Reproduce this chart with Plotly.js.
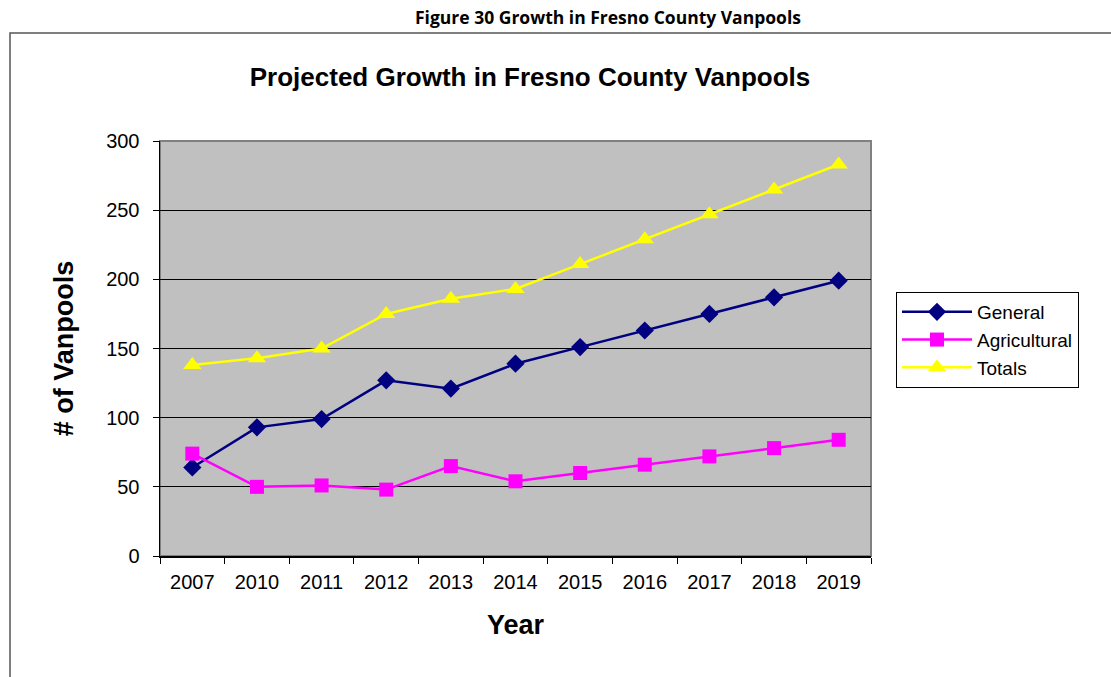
<!DOCTYPE html>
<html>
<head>
<meta charset="utf-8">
<script src="https://cdn.plot.ly/plotly-3.0.1.min.js"></script>
<style>html,body{margin:0;padding:0;background:#fff;}#chart{width:1111px;height:677px;}</style>
</head>
<body>
<div id="chart"></div>
<script>
const years = ["2007","2010","2011","2012","2013","2014","2015","2016","2017","2018","2019"];
const general = [64, 93, 99, 127, 121, 139, 151, 163, 175, 187, 199];
const agricultural = [74, 50, 51, 48, 65, 54, 60, 66, 72, 78, 84];
const totals = [138, 143, 150, 175, 186, 193, 211, 229, 247, 265, 283];
const yTicks = [0, 50, 100, 150, 200, 250, 300];

const W = 1111, H = 677;
const L = 160, R = 240, T = 141, B = 121;
const pw = W - L - R, ph = H - T - B;
const px = v => (v - L) / pw;
const py = v => (H - B - v) / ph;
const FONT = "Arial, 'Liberation Sans', sans-serif";

const traces = [
  {name: "General", x: years, y: general, type: "scatter", mode: "lines+markers",
   line: {color: "#000080", width: 2.5}, marker: {symbol: "diamond", size: 14, color: "#000080"}},
  {name: "Agricultural", x: years, y: agricultural, type: "scatter", mode: "lines+markers",
   line: {color: "#FF00FF", width: 2.5}, marker: {symbol: "square", size: 14, color: "#FF00FF"}},
  {name: "Totals", x: years, y: totals, type: "scatter", mode: "lines+markers",
   line: {color: "#FFFF00", width: 2.5}, marker: {symbol: "triangle-up", size: 16, color: "#FFFF00"}}
];

const layout = {
  width: W, height: H,
  margin: {l: L, r: R, t: T, b: B, pad: 0},
  paper_bgcolor: "#ffffff",
  plot_bgcolor: "#C0C0C0",
  font: {family: FONT, size: 20, color: "#000"},
  title: {text: "<b>Projected Growth in Fresno County Vanpools</b>", font: {family: FONT, size: 26, color: "#000"},
          x: 530 / W, xref: "container", xanchor: "center", y: 1 - 77 / H, yref: "container", yanchor: "middle"},
  xaxis: {
    type: "category", tickvals: years, ticktext: years,
    tickson: "boundaries", ticks: "outside", ticklen: 6, tickcolor: "#000", tickwidth: 1,
    showline: true, linecolor: "#000", linewidth: 1.5, showgrid: false, zeroline: false,
    range: [-0.5, years.length - 0.5], ticklabelstandoff: 7,
    tickfont: {family: FONT, size: 20, color: "#000"},
    title: {text: "<b>Year</b>", font: {family: FONT, size: 27, color: "#000"}, standoff: 23}
  },
  yaxis: {
    range: [0, 300], tickvals: yTicks, ticks: "outside", ticklen: 6, tickcolor: "#000",
    showline: true, linecolor: "#000", linewidth: 1.5, showgrid: true, gridcolor: "#000", gridwidth: 1,
    zeroline: false, ticklabelstandoff: 9, tickfont: {family: FONT, size: 20, color: "#000"},
    title: {text: "<b># of Vanpools</b>", font: {family: FONT, size: 27, color: "#000"}, standoff: 24}
  },
  showlegend: true,
  legend: {x: px(896), y: py(292), xanchor: "left", yanchor: "top", bgcolor: "#fff",
           bordercolor: "#000", borderwidth: 1, font: {family: FONT, size: 19, color: "#000"},
           tracegroupgap: 0, itemwidth: 70},
  shapes: [
    {type: "rect", xref: "paper", yref: "paper", x0: px(10), x1: px(1130), y0: py(700), y1: py(33),
     line: {color: "#555", width: 1.5}, layer: "below"},
    {type: "rect", xref: "paper", yref: "paper", x0: 0, x1: 1, y0: 0, y1: 1,
     line: {color: "#808080", width: 2}, layer: "below"}
  ],
  annotations: [
    {text: "<b>Figure 30 Growth in Fresno County Vanpools</b>", xref: "paper", yref: "paper",
     x: px(608), y: py(17), xanchor: "center", yanchor: "middle", showarrow: false,
     font: {family: "'Open Sans', sans-serif", size: 17.5, color: "#000"}}
  ]
};

Plotly.newPlot("chart", traces, layout, {displayModeBar: false, staticPlot: true});
</script>
</body>
</html>
